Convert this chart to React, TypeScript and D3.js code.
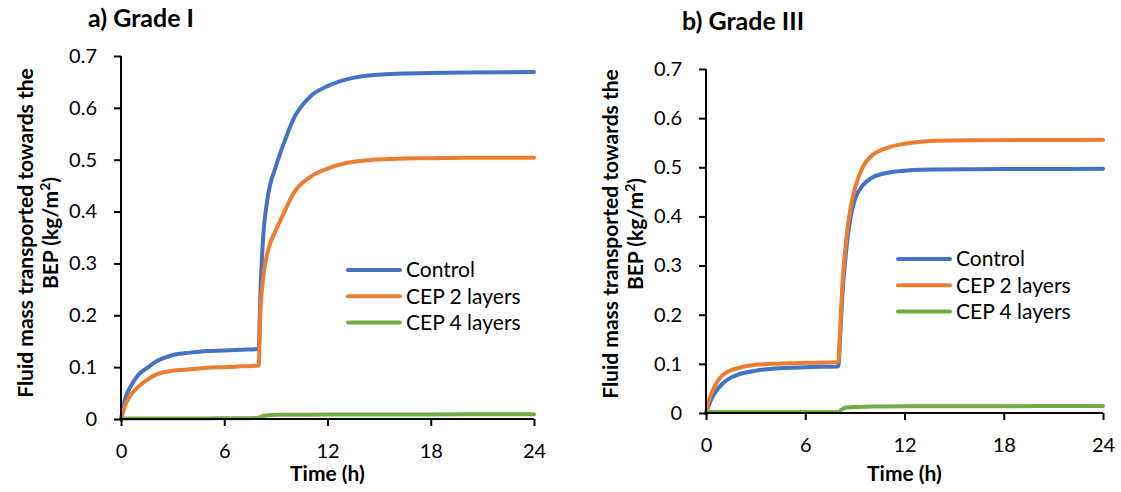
import React, { useRef, useEffect } from "react";
import * as d3 from "d3";

const timesA = [0, 0.25, 0.5, 1, 1.5, 2, 3, 4, 5, 6, 7, 8, 8.1, 8.25, 8.5, 9, 9.5, 10, 11, 12, 13, 14, 16, 18, 20, 24];
const controlA = [0, 0.04, 0.059, 0.085, 0.098, 0.11, 0.123, 0.128, 0.131, 0.132, 0.1335, 0.135, 0.242, 0.345, 0.422, 0.487, 0.535, 0.577, 0.622, 0.642, 0.654, 0.661, 0.666, 0.667, 0.668, 0.669];
const cep2A = [0, 0.027, 0.043, 0.062, 0.075, 0.085, 0.093, 0.096, 0.099, 0.1, 0.1015, 0.103, 0.204, 0.268, 0.319, 0.364, 0.4, 0.434, 0.467, 0.483, 0.493, 0.498, 0.502, 0.503, 0.504, 0.504];
const cep4A = [0, 0.001, 0.001, 0.001, 0.001, 0.001, 0.001, 0.001, 0.0012, 0.0014, 0.0016, 0.002, 0.004, 0.006, 0.007, 0.008, 0.008, 0.0082, 0.0084, 0.0085, 0.0086, 0.0087, 0.0088, 0.0089, 0.009, 0.009];

const timesB = [0, 0.25, 0.5, 1, 1.5, 2, 3, 4, 5, 6, 7, 8, 8.1, 8.25, 8.5, 8.75, 9, 9.5, 10, 11, 12, 13, 14, 16, 20, 24];
const controlB = [0, 0.022, 0.039, 0.06, 0.072, 0.079, 0.086, 0.09, 0.092, 0.093, 0.094, 0.0945, 0.148, 0.243, 0.338, 0.4, 0.434, 0.464, 0.478, 0.489, 0.493, 0.495, 0.4955, 0.496, 0.4965, 0.497];
const cep2B = [0, 0.033, 0.053, 0.077, 0.087, 0.092, 0.098, 0.1, 0.101, 0.102, 0.1025, 0.104, 0.162, 0.264, 0.359, 0.42, 0.457, 0.502, 0.523, 0.54, 0.548, 0.552, 0.554, 0.555, 0.5555, 0.556];
const cep4B = [0, 0.002, 0.002, 0.002, 0.002, 0.002, 0.002, 0.002, 0.002, 0.002, 0.002, 0.002, 0.004, 0.008, 0.011, 0.0115, 0.012, 0.0125, 0.013, 0.0133, 0.0135, 0.0136, 0.0137, 0.0138, 0.014, 0.014];

const seriesNames = ["Control", "CEP 2 layers", "CEP 4 layers"];
const seriesColors = ["#4472C4", "#ED7D31", "#70AD47"];
const xTicks = [0, 6, 12, 18, 24];
const yTicks = [0, 0.1, 0.2, 0.3, 0.4, 0.5, 0.6, 0.7];

const FONT = "Lato, 'Open Sans', sans-serif";

const panels = [
  {
    title: "a) Grade I", titleX: 88, titleY: 27,
    left: 121, right: 534, top: 56, bottom: 419,
    yLabelX: 33, yLabelY: 233,
    legendX: 348, legendY: 270,
    xLabelBase: 458,
    times: timesA, series: [controlA, cep2A, cep4A],
  },
  {
    title: "b) Grade III", titleX: 682, titleY: 30,
    left: 706, right: 1103, top: 69, bottom: 413,
    yLabelX: 618, yLabelY: 234,
    legendX: 898, legendY: 259,
    xLabelBase: 452,
    times: timesB, series: [controlB, cep2B, cep4B],
  },
];

const App = () => {
  const ref = useRef(null);

  useEffect(() => {
    const svg = d3.select(ref.current);
    svg.selectAll("*").remove();

    panels.forEach(p => {
      const x = d3.scaleLinear().domain([0, 24]).range([p.left, p.right]);
      const y = d3.scaleLinear().domain([0, 0.7]).range([p.bottom, p.top]);
      const g = svg.append("g");

      // title
      g.append("text")
        .attr("x", p.titleX).attr("y", p.titleY)
        .attr("font-family", FONT).attr("font-weight", "bold").attr("font-size", 25)
        .text(p.title);

      // series lines
      const line = d3.line()
        .x((d, i) => x(p.times[i]))
        .y(d => y(d))
        .curve(d3.curveMonotoneX);
      p.series.forEach((vals, si) => {
        g.append("path")
          .datum(vals)
          .attr("d", line)
          .attr("fill", "none")
          .attr("stroke", seriesColors[si])
          .attr("stroke-width", 4)
          .attr("stroke-linejoin", "round")
          .attr("stroke-linecap", "round");
      });

      // axes
      const yAxis = g.append("g")
        .attr("transform", "translate(" + p.left + ",0)")
        .call(d3.axisLeft(y).tickValues(yTicks).tickSize(7).tickPadding(17).tickFormat(d => d === 0 ? "0" : d3.format(".1f")(d)));
      const xAxis = g.append("g")
        .attr("transform", "translate(0," + p.bottom + ")")
        .call(d3.axisBottom(x).tickValues(xTicks).tickSize(7).tickPadding(0).tickSizeOuter(0));
      [yAxis, xAxis].forEach(a => {
        a.select(".domain").attr("stroke", "#000").attr("stroke-width", 2);
        a.selectAll(".tick line").attr("stroke", "#000").attr("stroke-width", 2);
        a.selectAll("text").attr("font-family", FONT).attr("font-size", 20).attr("fill", "#000");
      });
      yAxis.select(".domain").attr("d", "M0," + p.bottom + "V" + p.top);
      xAxis.select(".domain").attr("d", "M" + p.left + ",0H" + p.right);
      xAxis.selectAll("text").attr("dy", null).attr("y", p.xLabelBase - p.bottom);

      // axis titles
      g.append("text")
        .attr("x", (p.left + p.right) / 2).attr("y", 481)
        .attr("text-anchor", "middle")
        .attr("font-family", FONT).attr("font-weight", "bold").attr("font-size", 21)
        .text("Time (h)");

      const yl = g.append("text")
        .attr("transform", "translate(" + p.yLabelX + "," + p.yLabelY + ") rotate(-90)")
        .attr("text-anchor", "middle")
        .attr("font-family", FONT).attr("font-weight", "bold").attr("font-size", 21);
      yl.append("tspan").attr("x", 0).attr("y", 0).text("Fluid mass transported towards the");
      const l2 = yl.append("tspan").attr("x", 0).attr("y", 25);
      l2.append("tspan").text("BEP (kg/m");
      l2.append("tspan").attr("font-size", 14).attr("dy", -8).text("2");
      l2.append("tspan").attr("dy", 8).text(")");

      // legend
      seriesNames.forEach((name, i) => {
        const ly = p.legendY + i * 26.3;
        g.append("line")
          .attr("x1", p.legendX).attr("x2", p.legendX + 52)
          .attr("y1", ly).attr("y2", ly)
          .attr("stroke", seriesColors[i]).attr("stroke-width", 4)
          .attr("stroke-linecap", "round");
        g.append("text")
          .attr("x", p.legendX + 58).attr("y", ly)
          .attr("dy", "0.35em")
          .attr("font-family", FONT).attr("font-size", 21)
          .text(name);
      });
    });
  }, []);

  return (
    <svg ref={ref} width={1121} height={492}
      style={{ position: "absolute", left: 0, top: 0, background: "#fff" }}></svg>
  );
};

export default App;
